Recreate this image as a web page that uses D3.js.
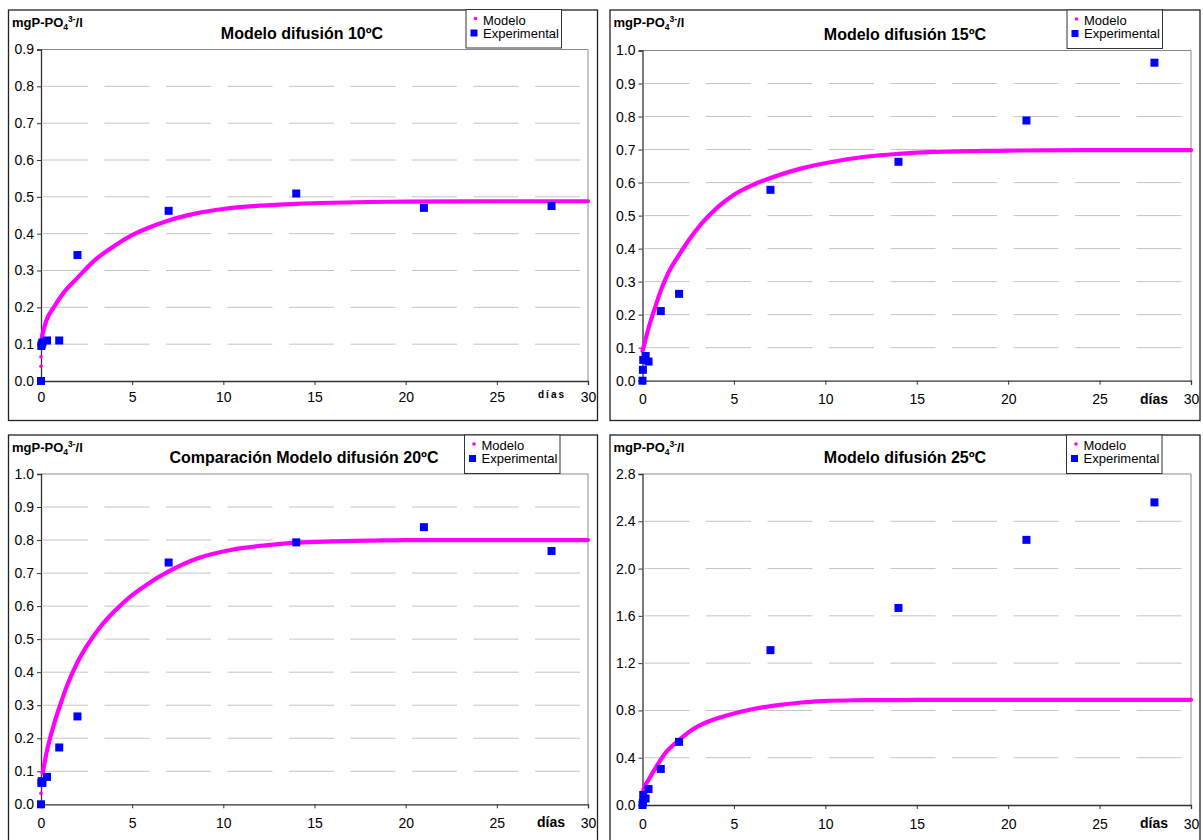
<!DOCTYPE html>
<html>
<head>
<meta charset="utf-8">
<script src="https://cdn.jsdelivr.net/npm/d3@7"></script>
<style>
  body { margin: 0; background: #fff; }
  svg { display: block; }
  text { font-family: Arial, "Liberation Sans", sans-serif; fill: #000; }
</style>
</head>
<body>
<svg id="chart" width="1203" height="840"></svg>
<script>
// ---- data -------------------------------------------------------------
const dayTicks = [0, 5, 10, 15, 20, 25, 30];

// 10 ºC
const ticks10 = [0, 0.1, 0.2, 0.3, 0.4, 0.5, 0.6, 0.7, 0.8, 0.9];
const exp10Days = [0, 0.02, 0.04, 0.08, 0.33, 1, 2, 7, 14, 21, 28];
const exp10Vals = [0, 0.095, 0.1, 0.105, 0.11, 0.11, 0.342, 0.462, 0.509, 0.47, 0.475];
const mod10StartDays = [0, 0];
const mod10StartVals = [0.04, 0.066];
const mod10Days = [0.05, 0.1, 0.3, 0.7, 1.2, 2, 3, 4, 5, 6, 7, 8.5, 10, 12, 14, 16, 18, 20, 25, 30];
const mod10Vals = [0.12, 0.13, 0.165, 0.2, 0.237, 0.28, 0.33, 0.366, 0.396, 0.418, 0.436, 0.455, 0.467, 0.476, 0.481, 0.484, 0.486, 0.487, 0.488, 0.488];

// 15 ºC
const ticks15 = [0, 0.1, 0.2, 0.3, 0.4, 0.5, 0.6, 0.7, 0.8, 0.9, 1.0];
const exp15Days = [0, 0.02, 0.04, 0.17, 0.33, 1, 2, 7, 14, 21, 28];
const exp15Vals = [0, 0.033, 0.063, 0.075, 0.058, 0.211, 0.263, 0.578, 0.663, 0.788, 0.963];
const mod15StartDays = [];
const mod15StartVals = [];
const mod15Days = [0, 0.05, 0.33, 0.7, 1.05, 1.4, 2, 2.5, 3.25, 4.15, 5, 6, 7, 8.7, 10.5, 12.3, 14, 16, 18, 20, 25, 30];
const mod15Vals = [0.09, 0.1, 0.159, 0.224, 0.28, 0.325, 0.381, 0.423, 0.477, 0.527, 0.563, 0.592, 0.614, 0.643, 0.664, 0.679, 0.687, 0.693, 0.695, 0.697, 0.698, 0.698];

// 20 ºC
const ticks20 = [0, 0.1, 0.2, 0.3, 0.4, 0.5, 0.6, 0.7, 0.8, 0.9, 1.0];
const exp20Days = [0, 0.02, 0.04, 0.08, 0.33, 1, 2, 7, 14, 21, 28];
const exp20Vals = [0, 0.065, 0.07, 0.065, 0.083, 0.172, 0.266, 0.732, 0.793, 0.839, 0.767];
const mod20StartDays = [0];
const mod20StartVals = [0.033];
const mod20Days = [0.09, 0.3, 0.7, 1.05, 1.4, 2, 2.5, 3.25, 4, 4.9, 5.8, 7, 8.6, 10.4, 12.3, 14, 16, 18, 20, 25, 30];
const mod20Vals = [0.094, 0.155, 0.24, 0.3, 0.355, 0.43, 0.478, 0.537, 0.583, 0.629, 0.665, 0.705, 0.745, 0.77, 0.784, 0.792, 0.796, 0.798, 0.8, 0.8, 0.8];

// 25 ºC
const ticks25 = [0, 0.4, 0.8, 1.2, 1.6, 2.0, 2.4, 2.8];
const exp25Days = [0, 0.02, 0.04, 0.17, 0.33, 1, 2, 7, 14, 21, 28];
const exp25Vals = [0, 0.02, 0.085, 0.055, 0.135, 0.305, 0.534, 1.31, 1.667, 2.243, 2.56];
const mod25StartDays = [];
const mod25StartVals = [];
const mod25Days = [0, 0.05, 0.33, 0.7, 1.24, 2, 2.7, 3.6, 4.7, 6, 7.2, 8.7, 9.8, 11.6, 14, 16, 20, 25, 30];
const mod25Vals = [0.07, 0.127, 0.212, 0.31, 0.438, 0.55, 0.635, 0.706, 0.762, 0.81, 0.841, 0.867, 0.878, 0.886, 0.888, 0.889, 0.89, 0.89, 0.89];

const titles = ["Modelo difusión 10ºC", "Modelo difusión 15ºC", "Comparación Modelo difusión 20ºC", "Modelo difusión 25ºC"];
const legendLabels = ["Modelo", "Experimental"];
const xAxisLabel = "días";

// ---- layout -----------------------------------------------------------
const panels = [
  { frame: [8.5, 10, 589, 410.5], plot: [41, 588, 49.5, 381], yMax: 0.9, yTicks: ticks10,
    title: titles[0], titleX: 302, titleY: 39, legend: [466, 9.5], xPad: 7,
    expD: exp10Days, expV: exp10Vals, modD: mod10Days, modV: mod10Vals, m0D: mod10StartDays, m0V: mod10StartVals,
    smallDias: true },
  { frame: [610, 10, 590, 410.5], plot: [642.5, 1191, 50.5, 380.7], yMax: 1.0, yTicks: ticks15,
    title: titles[1], titleX: 905, titleY: 40, legend: [1067, 10], xPad: 9,
    expD: exp15Days, expV: exp15Vals, modD: mod15Days, modV: mod15Vals, m0D: mod15StartDays, m0V: mod15StartVals },
  { frame: [8.5, 435, 589, 420], plot: [41, 588, 474, 804.3], yMax: 1.0, yTicks: ticks20,
    title: titles[2], titleX: 304, titleY: 463, legend: [464.5, 435], xPad: 10,
    expD: exp20Days, expV: exp20Vals, modD: mod20Days, modV: mod20Vals, m0D: mod20StartDays, m0V: mod20StartVals },
  { frame: [610, 435, 590, 420], plot: [642.5, 1191, 474, 805], yMax: 2.8, yTicks: ticks25,
    title: titles[3], titleX: 905, titleY: 463, legend: [1066.5, 435], xPad: 10,
    expD: exp25Days, expV: exp25Vals, modD: mod25Days, modV: mod25Vals, m0D: mod25StartDays, m0V: mod25StartVals }
];

const MAGENTA = "#ff00ff";
const BLUE = "#0000ff";
const svg = d3.select("#chart");

panels.forEach(p => {
  const [fx, fy, fw, fh] = p.frame;
  const [x0, x1, yTop, yBot] = p.plot;
  const g = svg.append("g");

  // outer chart border
  g.append("rect").attr("x", fx).attr("y", fy).attr("width", fw).attr("height", fh)
    .attr("fill", "#fff").attr("stroke", "#222").attr("stroke-width", 1.3);

  const x = d3.scaleLinear().domain([0, 30]).range([x0, x1]);
  const y = d3.scaleLinear().domain([0, p.yMax]).range([yBot, yTop]);

  // dashed horizontal gridlines
  g.append("g").selectAll("line").data(p.yTicks.filter(v => v > 0 && v < p.yMax - 1e-9)).join("line")
    .attr("x1", x0 + 2).attr("x2", x1).attr("y1", d => y(d)).attr("y2", d => y(d))
    .attr("stroke", "#c4c4c4").attr("stroke-width", 1).attr("stroke-dasharray", "45,16.5");

  // plot-area frame (top and right)
  g.append("path").attr("d", `M${x0},${yTop}H${x1}V${yBot}`)
    .attr("fill", "none").attr("stroke", "#8a8a8a").attr("stroke-width", 1);

  // y axis
  const yAxis = d3.axisLeft(y).tickValues(p.yTicks).tickFormat(d3.format(".1f"))
    .tickSize(4).tickPadding(3);
  const ya = g.append("g").attr("transform", `translate(${x0},0)`).call(yAxis);
  ya.select(".domain").attr("stroke", "#333").attr("stroke-width", 1.3);
  ya.selectAll(".tick line").attr("stroke", "#333");
  ya.selectAll(".tick text").attr("font-size", 14).attr("font-family", "Arial, 'Liberation Sans', sans-serif").attr("fill", "#000");

  // x axis
  const xAxis = d3.axisBottom(x).tickValues(dayTicks).tickFormat(d3.format("d"))
    .tickSize(4).tickPadding(p.xPad);
  const xa = g.append("g").attr("transform", `translate(0,${yBot})`).call(xAxis);
  xa.select(".domain").attr("stroke", "#333").attr("stroke-width", 1.3);
  xa.selectAll(".tick line").attr("stroke", "#333");
  xa.selectAll(".tick text").attr("font-size", 14).attr("font-family", "Arial, 'Liberation Sans', sans-serif").attr("fill", "#000");

  // "días" label
  if (p.smallDias) {
    g.append("text").attr("x", x1 - 50).attr("y", yBot + 17).attr("font-size", 10)
      .attr("font-weight", "bold").attr("letter-spacing", 2).text(xAxisLabel);
  } else {
    g.append("text").attr("x", x1 - 51).attr("y", yBot + 23).attr("font-size", 14)
      .attr("font-weight", "bold").text(xAxisLabel);
  }

  // y unit label: mgP-PO4^3-/l
  const yl = g.append("text").attr("x", fx + 3.5).attr("y", fy + 17).attr("font-size", 13).attr("font-weight", "bold");
  yl.append("tspan").text("mgP-PO");
  yl.append("tspan").attr("font-size", 8.5).attr("dy", 3).text("4");
  yl.append("tspan").attr("font-size", 8.5).attr("dy", -8.5).text("3-");
  yl.append("tspan").attr("dy", 5.5).text("/l");

  // title
  g.append("text").attr("x", p.titleX).attr("y", p.titleY).attr("text-anchor", "middle")
    .attr("font-size", 16).attr("font-weight", "bold").text(p.title);

  // model curve
  const modelPts = p.modD.map((d, i) => [d, p.modV[i]]);
  const line = d3.line().x(d => x(d[0])).y(d => y(d[1])).curve(d3.curveMonotoneX);
  g.append("path").datum(modelPts).attr("d", line)
    .attr("fill", "none").attr("stroke", MAGENTA).attr("stroke-width", 4.2)
    .attr("stroke-linecap", "round").attr("stroke-linejoin", "round");
  g.append("g").selectAll("circle").data(p.m0D.map((d, i) => [d, p.m0V[i]])).join("circle")
    .attr("cx", d => x(d[0])).attr("cy", d => y(d[1])).attr("r", 1.8).attr("fill", MAGENTA);

  // experimental points
  const expPts = p.expD.map((d, i) => [d, p.expV[i]]);
  g.append("g").selectAll("rect").data(expPts).join("rect")
    .attr("x", d => x(d[0]) - 4).attr("y", d => y(d[1]) - 4)
    .attr("width", 8).attr("height", 8).attr("fill", BLUE);

  // legend
  const [lx, ly] = p.legend;
  const lg = g.append("g");
  lg.append("rect").attr("x", lx).attr("y", ly).attr("width", 95.5).attr("height", 38.5)
    .attr("fill", "#fff").attr("stroke", "#333").attr("stroke-width", 1);
  lg.append("circle").attr("cx", lx + 9.5).attr("cy", ly + 9).attr("r", 1.8).attr("fill", MAGENTA);
  lg.append("text").attr("x", lx + 17).attr("y", ly + 15).attr("font-size", 13).text(legendLabels[0]);
  lg.append("rect").attr("x", lx + 4.5).attr("y", ly + 20).attr("width", 7).attr("height", 7).attr("fill", BLUE);
  lg.append("text").attr("x", lx + 17).attr("y", ly + 28).attr("font-size", 13).text(legendLabels[1]);
});
</script>
</body>
</html>
